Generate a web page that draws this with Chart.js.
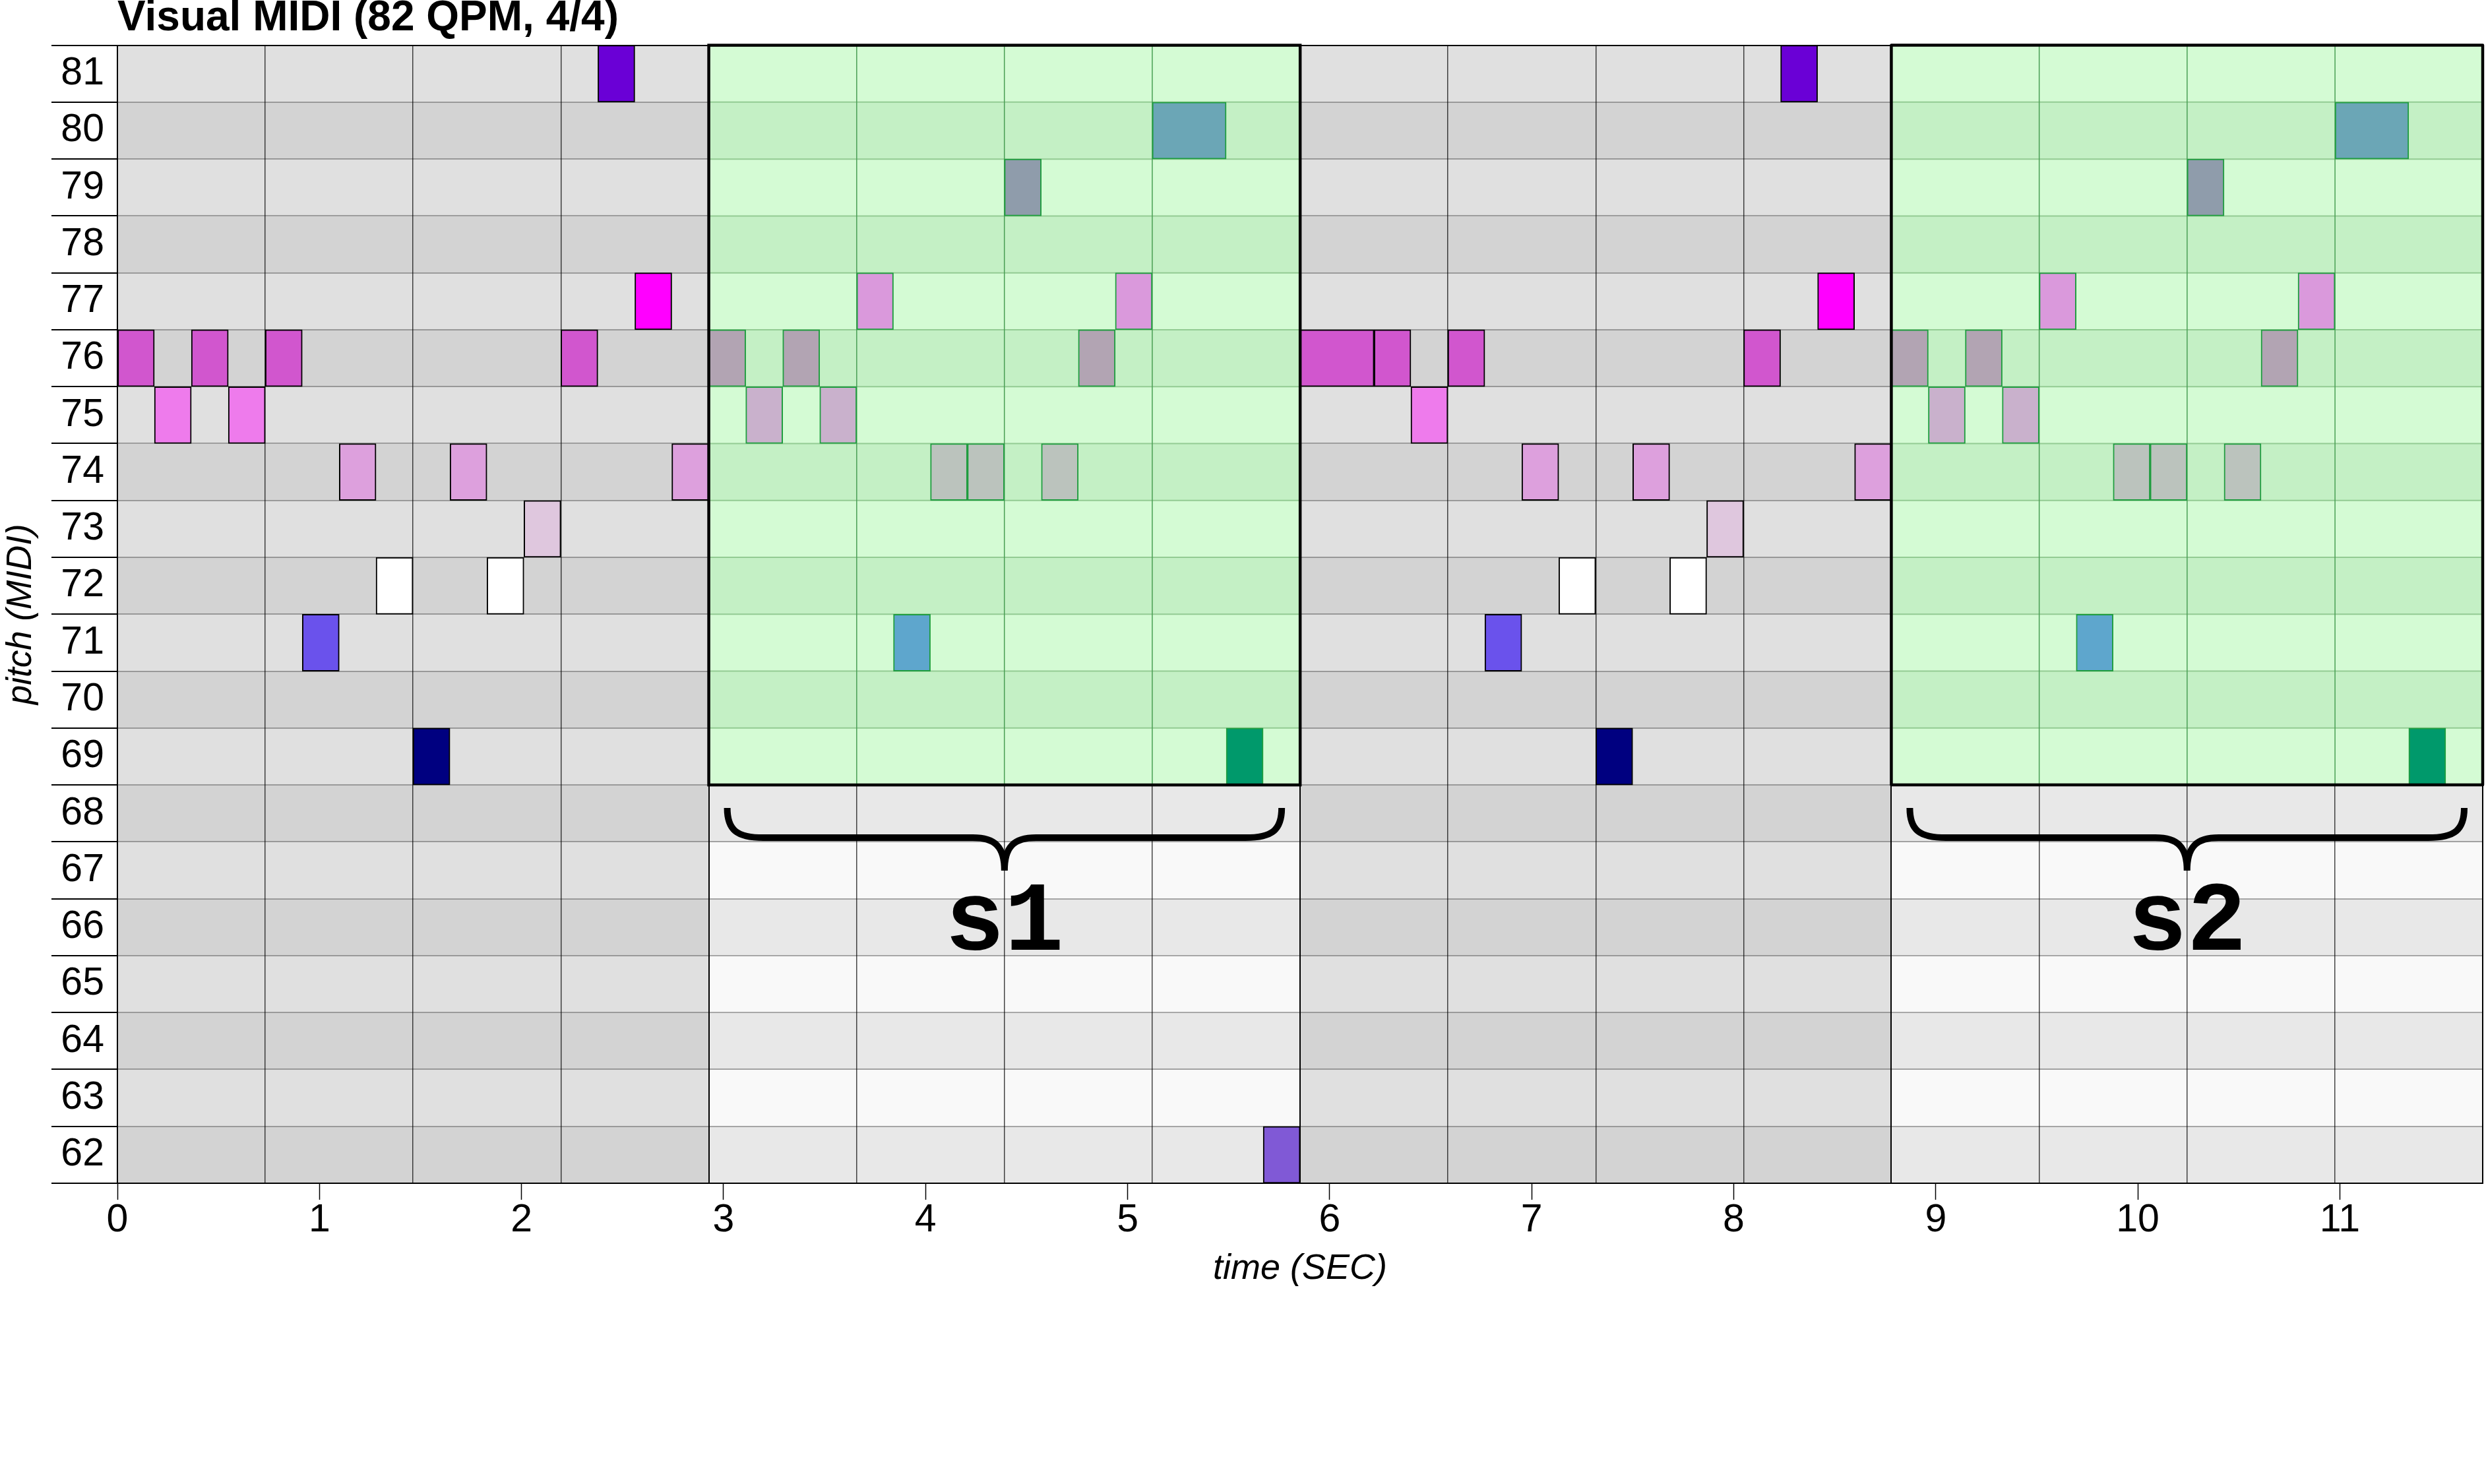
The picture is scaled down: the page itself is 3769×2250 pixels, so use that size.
<!DOCTYPE html>
<html>
<head>
<meta charset="utf-8">
<script src="https://cdn.jsdelivr.net/npm/chart.js@4.4.1/dist/chart.umd.min.js"></script>
<style>
  html, body { margin: 0; padding: 0; background: #ffffff; }
  canvas { display: block; }
</style>
</head>
<body>
<canvas id="roll" width="3769" height="2250"></canvas>
<script>
// ---------------- data ----------------
const TITLE = 'Visual MIDI (82 QPM, 4/4)';
const X_TITLE = 'time (SEC)';
const Y_TITLE = 'pitch (MIDI)';

const PITCHES = [62, 63, 64, 65, 66, 67, 68, 69, 70, 71, 72, 73, 74, 75, 76, 77, 78, 79, 80, 81];
const X_TICKS = [0, 1, 2, 3, 4, 5, 6, 7, 8, 9, 10, 11];
const TIME_MAX = 11.707;
const BEAT_TIMES = [0, 0.732, 1.463, 2.195, 2.927, 3.659, 4.390, 5.122, 5.854,
                    6.585, 7.317, 8.049, 8.780, 9.512, 10.244, 10.976, 11.707];

// notes outside the marked segments
const PLAIN_PITCH = [76, 75, 76, 75, 76, 71, 74, 72, 69, 74, 72, 73, 76, 81, 77, 74,
                     62,
                     76, 76, 75, 76, 71, 74, 72, 69, 74, 72, 73, 76, 81, 77, 74];
const PLAIN_START = [0.000, 0.183, 0.366, 0.549, 0.732, 0.915, 1.098, 1.280, 1.463, 1.646, 1.829, 2.012, 2.195, 2.378, 2.561, 2.744,
                     5.671,
                     5.854, 6.220, 6.402, 6.585, 6.768, 6.951, 7.134, 7.317, 7.500, 7.683, 7.866, 8.049, 8.232, 8.415, 8.598];
const PLAIN_END   = [0.183, 0.366, 0.549, 0.732, 0.915, 1.098, 1.280, 1.463, 1.646, 1.829, 2.012, 2.195, 2.378, 2.561, 2.744, 2.927,
                     5.854,
                     6.220, 6.402, 6.585, 6.768, 6.951, 7.134, 7.317, 7.500, 7.683, 7.866, 8.049, 8.232, 8.415, 8.598, 8.780];

// notes inside the marked segments s1 / s2
const SEG_PITCH = [76, 75, 76, 75, 77, 71, 74, 74, 79, 74, 76, 77, 80, 69,
                   76, 75, 76, 75, 77, 71, 74, 74, 79, 74, 76, 77, 80, 69];
const SEG_START = [2.927, 3.110, 3.293, 3.476, 3.659, 3.841, 4.024, 4.207, 4.390, 4.573, 4.756, 4.939, 5.122, 5.488,
                   8.780, 8.963, 9.146, 9.329, 9.512, 9.695, 9.878, 10.061, 10.244, 10.427, 10.610, 10.793, 10.976, 11.341];
const SEG_END   = [3.110, 3.293, 3.476, 3.659, 3.841, 4.024, 4.207, 4.390, 4.573, 4.756, 4.939, 5.122, 5.488, 5.671,
                   8.963, 9.146, 9.329, 9.512, 9.695, 9.878, 10.061, 10.244, 10.427, 10.610, 10.793, 10.976, 11.341, 11.524];

const SEGMENT_LABELS = ['s1', 's2'];
const SEGMENT_START = [2.927, 8.780];
const SEGMENT_END = [5.854, 11.707];
const SEGMENT_LOW_PITCH = 69;

// ---------------- styles ----------------
const FONT = "'Liberation Sans', Arial, Helvetica, sans-serif";
const MONO = "'Liberation Mono', 'Courier New', 'DejaVu Sans Mono', monospace";
const PLAIN_COLORS = {81: '#6a00d6', 77: '#ff00ff', 76: '#d156ce', 75: '#ee7bec', 74: '#dda0dd',
                      73: '#dfc7de', 72: '#ffffff', 71: '#6a52ec', 69: '#000080', 62: '#8059d6'};
const SEG_COLORS = {80: '#6ba6b6', 79: '#8f9cab', 77: '#da99dc', 76: '#b2a4b3', 75: '#c9b1cc',
                    74: '#bbc3bd', 71: '#5ea6cd', 69: '#00996b'};
const BG = {grayOdd: '#e0e0e0', grayEven: '#d3d3d3', paleOdd: '#f9f9f9', paleEven: '#e8e8e8',
            greenOdd: '#d4fbd4', greenEven: '#c4f0c5'};

function noteData(pitch, start, end) {
  return pitch.map((p, i) => ({x: [start[i], end[i]], y: p}));
}

const rollPlugin = {
  id: 'rollBackground',
  beforeDraw(chart) {
    const {ctx, chartArea: a, scales: {x, y}} = chart;
    ctx.save();
    PITCHES.forEach(p => {
      const top = y.getPixelForValue(p + 0.5), bot = y.getPixelForValue(p - 0.5);
      ctx.fillStyle = p % 2 ? BG.grayOdd : BG.grayEven;
      ctx.fillRect(a.left, top, a.right - a.left, bot - top);
      if (p < SEGMENT_LOW_PITCH) {
        SEGMENT_START.forEach((s, i) => {
          const l = x.getPixelForValue(s), r = x.getPixelForValue(SEGMENT_END[i]);
          ctx.fillStyle = p % 2 ? BG.paleOdd : BG.paleEven;
          ctx.fillRect(l, top, r - l, bot - top);
        });
      }
    });
    ctx.restore();
  },
  beforeDatasetsDraw(chart) {
    const {ctx, scales: {x, y}} = chart;
    ctx.save();
    SEGMENT_START.forEach((s, i) => {
      const e = SEGMENT_END[i];
      const l = x.getPixelForValue(s), r = x.getPixelForValue(e);
      PITCHES.filter(p => p >= SEGMENT_LOW_PITCH).forEach(p => {
        const top = y.getPixelForValue(p + 0.5), bot = y.getPixelForValue(p - 0.5);
        ctx.fillStyle = p % 2 ? BG.greenOdd : BG.greenEven;
        ctx.fillRect(l, top, r - l, bot - top);
      });
      ctx.strokeStyle = '#93cb93';
      ctx.lineWidth = 2;
      PITCHES.filter(p => p >= SEGMENT_LOW_PITCH && p < PITCHES[PITCHES.length - 1]).forEach(p => {
        const yy = y.getPixelForValue(p + 0.5);
        ctx.beginPath(); ctx.moveTo(l, yy); ctx.lineTo(r, yy); ctx.stroke();
      });
      ctx.strokeStyle = '#4a9f55';
      ctx.lineWidth = 1.5;
      const yTop = y.getPixelForValue(PITCHES[PITCHES.length - 1] + 0.5);
      const yBot = y.getPixelForValue(SEGMENT_LOW_PITCH - 0.5);
      BEAT_TIMES.filter(t => t > s + 1e-3 && t < e - 1e-3).forEach(t => {
        const xx = x.getPixelForValue(t);
        ctx.beginPath(); ctx.moveTo(xx, yTop); ctx.lineTo(xx, yBot); ctx.stroke();
      });
    });
    ctx.restore();
  },
  afterDatasetsDraw(chart) {
    const {ctx, scales: {x, y}} = chart;
    ctx.save();
    SEGMENT_START.forEach((s, i) => {
      const l = x.getPixelForValue(s), r = x.getPixelForValue(SEGMENT_END[i]);
      const yTop = y.getPixelForValue(PITCHES[PITCHES.length - 1] + 0.5);
      const yb = y.getPixelForValue(SEGMENT_LOW_PITCH - 0.5);
      ctx.strokeStyle = '#000';
      ctx.lineWidth = 4.5;
      ctx.strokeRect(l, yTop, r - l, yb - yTop);
      // brace
      const x1 = l + 28, x2 = r - 28, xc = (l + r) / 2;
      const bTop = yb + 35, bMid = yb + 80, bTip = yb + 130;
      ctx.beginPath();
      ctx.moveTo(x1, bTop);
      ctx.bezierCurveTo(x1, bMid - 12, x1 + 14, bMid, x1 + 55, bMid);
      ctx.lineTo(xc - 48, bMid);
      ctx.bezierCurveTo(xc - 14, bMid, xc, bMid + 14, xc, bTip);
      ctx.moveTo(x2, bTop);
      ctx.bezierCurveTo(x2, bMid - 12, x2 - 14, bMid, x2 - 55, bMid);
      ctx.lineTo(xc + 48, bMid);
      ctx.bezierCurveTo(xc + 14, bMid, xc, bMid + 14, xc, bTip);
      ctx.lineWidth = 10;
      ctx.lineCap = 'butt';
      ctx.lineJoin = 'round';
      ctx.stroke();
      // label
      ctx.fillStyle = '#000';
      ctx.font = 'bold 150px ' + MONO;
      ctx.textAlign = 'center';
      ctx.textBaseline = 'alphabetic';
      ctx.fillText(SEGMENT_LABELS[i], xc, yb + 250);
    });
    ctx.restore();
  }
};

const barCommon = {
  borderWidth: 2,
  borderSkipped: false,
  grouped: false,
  barPercentage: 1,
  categoryPercentage: 1
};

new Chart(document.getElementById('roll'), {
  type: 'bar',
  data: {
    datasets: [
      Object.assign({
        label: 'notes',
        data: noteData(PLAIN_PITCH, PLAIN_START, PLAIN_END),
        backgroundColor: c => PLAIN_COLORS[c.raw ? c.raw.y : 62] || '#888',
        borderColor: '#000000'
      }, barCommon),
      Object.assign({
        label: 'segment notes',
        data: noteData(SEG_PITCH, SEG_START, SEG_END),
        backgroundColor: c => SEG_COLORS[c.raw ? c.raw.y : 69] || '#888',
        borderColor: '#1f9d3f'
      }, barCommon)
    ]
  },
  options: {
    indexAxis: 'y',
    responsive: false,
    animation: false,
    devicePixelRatio: 1,
    events: [],
    layout: { padding: { left: 0, right: 5, top: 0, bottom: 293.6 } },
    plugins: {
      legend: { display: false },
      tooltip: { enabled: false },
      title: {
        display: true, text: TITLE, align: 'start', fullSize: false, color: '#000',
        font: { family: FONT, size: 64, weight: 'bold', lineHeight: 0.9 },
        padding: { top: 0, bottom: 11 }
      }
    },
    scales: {
      x: {
        type: 'linear', position: 'bottom', min: 0, max: TIME_MAX, offset: false,
        afterBuildTicks: s => { s.ticks = X_TICKS.map(v => ({ value: v })); },
        ticks: { color: '#000', font: { family: FONT, size: 59, lineHeight: 1.2 }, padding: -4,
                 maxRotation: 0, autoSkip: false, callback: v => String(v) },
        grid: { display: true, drawOnChartArea: false, drawTicks: true, tickLength: 25,
                tickColor: '#000', tickWidth: 1.5 },
        border: { display: true, color: '#000', width: 2 },
        title: { display: true, text: X_TITLE, color: '#000',
                 font: { family: FONT, size: 54, style: 'italic', lineHeight: 1.2 },
                 padding: { top: 0, bottom: 0 } },
        afterFit: s => { s.height = 162.4; }
      },
      xb: {
        type: 'linear', position: 'bottom', min: 0, max: TIME_MAX, offset: false,
        afterBuildTicks: s => { s.ticks = BEAT_TIMES.map(v => ({ value: v })); },
        ticks: { display: false },
        grid: { drawOnChartArea: true, drawTicks: false,
                color: c => (c.index % 4 === 0 ? '#000000' : 'rgba(0,0,0,0.72)'),
                lineWidth: c => (c.index % 4 === 0 ? 2 : 1.5) },
        border: { display: false },
        afterFit: s => { s.height = 0; }
      },
      y: {
        type: 'linear', position: 'left', min: 61.5, max: 81.5, offset: false,
        afterBuildTicks: s => { s.ticks = PITCHES.map(v => ({ value: v })); },
        ticks: { color: '#000', font: { family: FONT, size: 59 }, padding: -80,
                 autoSkip: false, callback: v => String(v) },
        grid: { offset: true, drawOnChartArea: true, drawTicks: true, tickLength: 100,
                tickColor: '#000', tickWidth: 2, lineWidth: 2,
                color: c => ((c.type === 'tick' && c.index > 0) ? 'rgba(0,0,0,0.3)' : '#000000') },
        border: { display: true, color: '#000', width: 1.5 },
        title: { display: true, text: Y_TITLE, color: '#000',
                 font: { family: FONT, size: 53, style: 'italic', lineHeight: 1.2 },
                 padding: { top: 0, bottom: 0 } },
        afterFit: s => { s.width = 178; }
      }
    }
  },
  plugins: [rollPlugin]
});
</script>
</body>
</html>
